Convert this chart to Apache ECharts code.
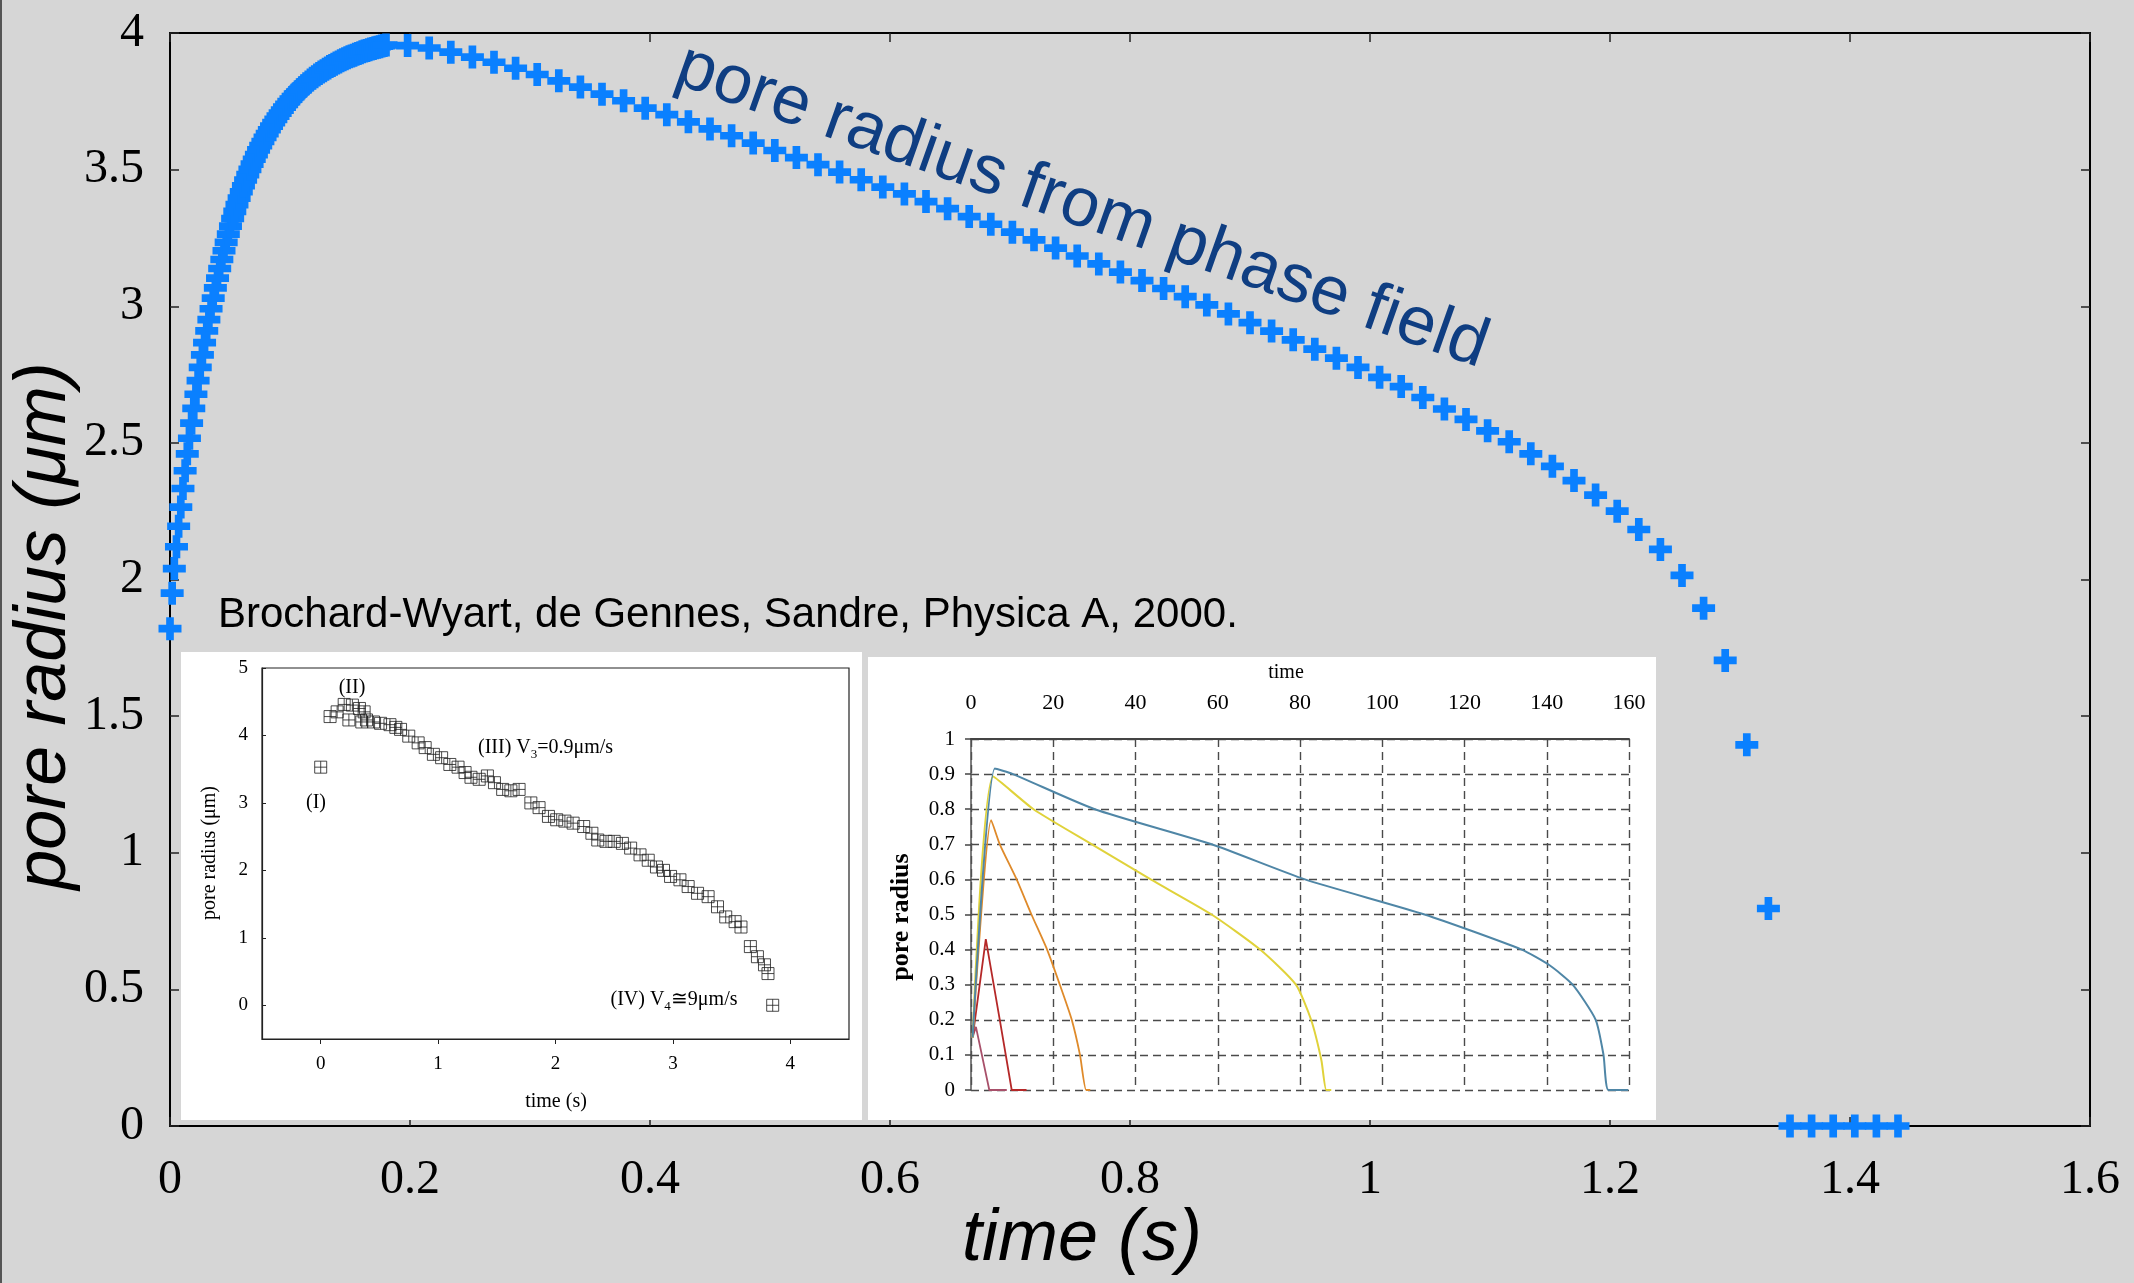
<!DOCTYPE html>
<html><head><meta charset="utf-8">
<script src="https://cdn.jsdelivr.net/npm/echarts@6/dist/echarts.min.js"></script>
<style>html,body{margin:0;padding:0;background:#d6d6d6}#c{width:2134px;height:1283px}</style>
</head><body><div id="c"></div><script>
// ---- main chart: pore radius from phase field ----
const mainTime = [
0,0.0018,0.0036,0.0054,0.0072,0.009,0.0108,0.0126,0.0144,0.0162,
0.018,0.0198,0.0216,0.0234,0.0252,0.027,0.0288,0.0306,0.0324,0.0342,
0.036,0.0378,0.0396,0.0414,0.0432,0.045,0.0468,0.0486,0.0504,0.0522,
0.054,0.0558,0.0576,0.0594,0.0612,0.063,0.0648,0.0666,0.0684,0.0702,
0.072,0.0738,0.0756,0.0774,0.0792,0.081,0.0828,0.0846,0.0864,0.0882,
0.09,0.0918,0.0936,0.0954,0.0972,0.099,0.1008,0.1026,0.1044,0.1062,
0.108,0.1098,0.1116,0.1134,0.1152,0.117,0.1188,0.1206,0.1224,0.1242,
0.126,0.1278,0.1296,0.1314,0.1332,0.135,0.1368,0.1386,0.1404,0.1422,
0.144,0.1458,0.1476,0.1494,0.1512,0.153,0.1548,0.1566,0.1584,0.1602,
0.162,0.1638,0.1656,0.1674,0.1692,0.171,0.1728,0.1746,0.1764,0.1782,0.18,
0.198,0.216,0.234,0.252,0.27,0.288,0.306,0.324,0.342,0.36,
0.378,0.396,0.414,0.432,0.45,0.468,0.486,0.504,0.522,0.54,
0.558,0.576,0.594,0.612,0.63,0.648,0.666,0.684,0.702,0.72,
0.738,0.756,0.774,0.792,0.81,0.828,0.846,0.864,0.882,0.9,
0.918,0.936,0.954,0.972,0.99,1.008,1.026,1.044,1.062,1.08,
1.098,1.116,1.134,1.152,1.17,1.188,1.206,1.224,1.242,1.26,
1.278,1.296,1.314,1.332,1.35,1.368,1.386,1.404,1.422,1.44
];
const mainRadius = [
1.82,1.95,2.04,2.12,2.195,2.265,2.333,2.398,2.46,2.517,
2.572,2.626,2.678,2.728,2.776,2.822,2.867,2.91,2.951,2.991,
3.03,3.067,3.103,3.138,3.171,3.203,3.234,3.264,3.293,3.321,
3.347,3.372,3.396,3.419,3.441,3.462,3.482,3.501,3.52,3.538,
3.555,3.572,3.588,3.603,3.618,3.632,3.646,3.659,3.672,3.684,
3.696,3.707,3.718,3.729,3.739,3.749,3.758,3.767,3.776,3.784,
3.792,3.8,3.807,3.814,3.821,3.828,3.834,3.84,3.846,3.852,
3.857,3.862,3.867,3.872,3.877,3.881,3.886,3.89,3.894,3.898,
3.902,3.906,3.909,3.913,3.916,3.919,3.922,3.925,3.928,3.931,
3.934,3.936,3.939,3.941,3.943,3.946,3.948,3.95,3.952,3.954,3.956,
3.954,3.945,3.93,3.912,3.893,3.871,3.848,3.825,3.802,3.776,
3.752,3.725,3.701,3.675,3.649,3.624,3.597,3.57,3.544,3.518,
3.491,3.463,3.436,3.411,3.383,3.357,3.328,3.3,3.271,3.243,
3.213,3.184,3.155,3.125,3.094,3.065,3.035,3.005,2.972,2.94,
2.909,2.877,2.843,2.81,2.776,2.74,2.706,2.666,2.624,2.586,
2.544,2.504,2.46,2.414,2.362,2.309,2.25,2.183,2.11,2.015,
1.895,1.704,1.395,0.796,0,0,0,0,0,0
];

// ---- inset A: experiment (Brochard-Wyart et al.) ----
const insetATime = [0,0.08,0.14,0.2,0.24,0.27,0.33,0.35,0.37,0.39,0.45,0.51,0.59,0.64,0.68,0.75,0.83,0.89,0.96,1.03,
1.1,1.17,1.23,1.28,1.35,1.42,1.48,1.55,1.62,1.69,1.79,1.86,1.94,2.01,2.08,2.15,2.24,2.31,2.36,2.43,
2.5,2.57,2.64,2.72,2.79,2.86,2.92,2.98,3.06,3.13,3.21,3.3,3.38,3.45,3.53,3.58,3.66,3.72,3.78,3.81,3.85];
const insetARadius = [3.53,4.28,4.35,4.46,4.23,4.45,4.4,4.2,4.35,4.23,4.2,4.18,4.16,4.12,4.09,3.99,3.89,3.82,3.72,3.67,
3.57,3.53,3.45,3.38,3.35,3.4,3.3,3.2,3.18,3.2,3.0,2.93,2.8,2.75,2.73,2.7,2.65,2.55,2.45,2.43,
2.43,2.4,2.33,2.23,2.15,2.05,2.0,1.91,1.86,1.76,1.66,1.61,1.46,1.31,1.24,1.16,0.87,0.72,0.6,0.47,0.0];
const insetAXTicks = [0,1,2,3,4];
const insetAYTicks = [0,1,2,3,4,5];

// ---- inset B: model curves ----
const curve1Time = [0.4,1.2,4.45,8.7];
const curve1Radius = [0.15,0.18,0,0];
const curve2Time = [0.4,3.6,7.0,9.9,13.5];
const curve2Radius = [0.15,0.43,0.2,0,0];
const curve3Time = [0.4,4.9,7.0,11.1,14.7,18.5,21.6,24.5,26.5,28,29];
const curve3Radius = [0.15,0.769,0.7,0.6,0.5,0.4,0.3,0.2,0.1,0,0];
const curve4Time = [0.4,5.4,15.2,29.4,43.7,58.5,70.3,79,82.7,85.2,86.4,87.6];
const curve4Radius = [0.15,0.893,0.8,0.7,0.6,0.5,0.4,0.3,0.2,0.085,0,0];
const curve5Time = [0.4,5.8,10.2,30.1,58.5,81.2,110.3,133.9,140.6,146.3,151.9,153.8,155,159.8];
const curve5Radius = [0.15,0.916,0.9,0.8,0.7,0.6,0.5,0.4,0.356,0.3,0.2,0.1,0,0];

const zip = (a, b) => a.map((v, i) => [v, b[i]]);
const SERIF = '"Liberation Serif","Times New Roman",serif';
const SANS = '"Liberation Sans",Arial,sans-serif';
const PLUS = 'path://M8,0H16V8H24V16H16V24H8V16H0V8H8Z';
const BOXCROSS = 'path://M0,0L10,0L10,10L0,10Z M5,0L5,10 M0,5L10,5';

const chart = echarts.init(document.getElementById('c'), null, {renderer: 'canvas'});
const gridLine = {lineStyle: {color: '#4a4a4a', width: 1.4, type: [8, 5]}};
const mainLine = {onZero: false, lineStyle: {color: '#000', width: 2}};
const mainTick = {inside: true, length: 9, lineStyle: {color: '#222', width: 1.5}};

chart.setOption({
  backgroundColor: '#d6d6d6',
  animation: false,
  grid: [
    {left: 170, right: 44, top: 33, bottom: 157},
    {left: 262, right: 1285, top: 668, bottom: 244, show: true, borderColor: '#222', borderWidth: 1.2, backgroundColor: 'transparent', z: 3},
    {left: 971, right: 505, top: 739, bottom: 193, z: 3}
  ],
  xAxis: [
    {gridIndex: 0, type: 'value', min: 0, max: 1.6, interval: 0.2, position: 'bottom',
     axisLine: mainLine, axisTick: mainTick,
     axisLabel: {margin: 30, color: '#000', fontSize: 48, fontFamily: SERIF},
     splitLine: {show: false}},
    {gridIndex: 0, type: 'value', min: 0, max: 1.6, interval: 0.2, position: 'top',
     axisLine: mainLine, axisTick: mainTick,
     axisLabel: {show: false}, splitLine: {show: false}},
    {gridIndex: 1, type: 'value', min: -0.5, max: 4.5, position: 'bottom', z: 3,
     axisLine: {onZero: false, lineStyle: {color: '#222', width: 1.2}},
     axisTick: {customValues: insetAXTicks, length: 5, lineStyle: {color: '#222'}},
     axisLabel: {customValues: insetAXTicks, margin: 16, color: '#000', fontSize: 19, fontFamily: SERIF},
     splitLine: {show: false}},
    {gridIndex: 2, type: 'value', min: 0, max: 160, interval: 20, position: 'top', z: 3,
     axisLine: {onZero: false, lineStyle: {color: '#444', width: 2}},
     axisTick: {show: false},
     axisLabel: {margin: 25, color: '#000', fontSize: 22, fontFamily: SERIF},
     splitLine: gridLine}
  ],
  yAxis: [
    {gridIndex: 0, type: 'value', min: 0, max: 4, interval: 0.5, position: 'left',
     axisLine: mainLine, axisTick: mainTick,
     axisLabel: {margin: 26, color: '#000', fontSize: 48, fontFamily: SERIF},
     splitLine: {show: false}},
    {gridIndex: 0, type: 'value', min: 0, max: 4, interval: 0.5, position: 'right',
     axisLine: mainLine, axisTick: mainTick,
     axisLabel: {show: false}, splitLine: {show: false}},
    {gridIndex: 1, type: 'value', min: -0.5, max: 5, position: 'left', z: 3,
     axisLine: {onZero: false, lineStyle: {color: '#222', width: 1.2}},
     axisTick: {customValues: insetAYTicks, inside: true, length: 4, lineStyle: {color: '#222'}},
     axisLabel: {customValues: insetAYTicks, margin: 14, color: '#000', fontSize: 19, fontFamily: SERIF},
     splitLine: {show: false}},
    {gridIndex: 2, type: 'value', min: 0, max: 1, interval: 0.1, position: 'left', z: 3,
     axisLine: {onZero: false, lineStyle: {color: '#555', width: 1.5}},
     axisTick: {length: 6, lineStyle: {color: '#444', width: 1.5}},
     axisLabel: {margin: 16, color: '#000', fontSize: 21, fontFamily: SERIF},
     splitLine: gridLine}
  ],
  series: [
    {type: 'scatter', xAxisIndex: 0, yAxisIndex: 0, data: zip(mainTime, mainRadius),
     symbol: PLUS, symbolSize: 23, itemStyle: {color: '#0a80ff', opacity: 1}, z: 4},
    {type: 'scatter', xAxisIndex: 2, yAxisIndex: 2, data: zip(insetATime, insetARadius),
     symbol: BOXCROSS, symbolSize: 12, z: 5,
     itemStyle: {color: 'rgba(0,0,0,0)', borderColor: '#1e1e1e', borderWidth: 1}},
    {type: 'line', xAxisIndex: 3, yAxisIndex: 3, data: zip(curve1Time, curve1Radius), showSymbol: false, z: 5,
     lineStyle: {color: '#a8506a', width: 1.8}},
    {type: 'line', xAxisIndex: 3, yAxisIndex: 3, data: zip(curve2Time, curve2Radius), showSymbol: false, z: 5,
     lineStyle: {color: '#b52828', width: 1.8}},
    {type: 'line', xAxisIndex: 3, yAxisIndex: 3, data: zip(curve3Time, curve3Radius), showSymbol: false, z: 5, smooth: 0.2,
     lineStyle: {color: '#df8a2a', width: 1.8}},
    {type: 'line', xAxisIndex: 3, yAxisIndex: 3, data: zip(curve4Time, curve4Radius), showSymbol: false, z: 5, smooth: 0.2,
     lineStyle: {color: '#e0d23a', width: 2}},
    {type: 'line', xAxisIndex: 3, yAxisIndex: 3, data: zip(curve5Time, curve5Radius), showSymbol: false, z: 5, smooth: 0.2,
     lineStyle: {color: '#4f86a6', width: 2}}
  ],
  graphic: [
    {type: 'line', z: 1, shape: {x1: 1, y1: 0, x2: 1, y2: 1283}, style: {stroke: '#555', lineWidth: 2}},
    {type: 'rect', z: 1, shape: {x: 181, y: 652, width: 681, height: 468}, style: {fill: '#ffffff'}},
    {type: 'rect', z: 1, shape: {x: 868, y: 657, width: 788, height: 463}, style: {fill: '#ffffff'}},
    {type: 'text', z: 10, x: 45, y: 626, rotation: Math.PI / 2,
     style: {text: 'pore radius (μm)', font: 'italic 72px ' + SANS, fill: '#000', align: 'center', verticalAlign: 'middle'}},
    {type: 'text', z: 10, x: 1082, y: 1240,
     style: {text: 'time (s)', font: 'italic 72px ' + SANS, fill: '#000', align: 'center', verticalAlign: 'middle'}},
    {type: 'text', z: 10, x: 1082, y: 207, rotation: -0.34,
     style: {text: 'pore radius from phase field', font: '69px ' + SANS, fill: '#0f3e82', align: 'center', verticalAlign: 'middle'}},
    {type: 'text', z: 10, x: 218, y: 615,
     style: {text: 'Brochard-Wyart, de Gennes, Sandre, Physica A, 2000.', font: '42px ' + SANS, fill: '#000', align: 'left', verticalAlign: 'middle'}},
    {type: 'text', z: 10, x: 352, y: 688,
     style: {text: '(II)', font: '20px ' + SERIF, fill: '#000', align: 'center', verticalAlign: 'middle'}},
    {type: 'text', z: 10, x: 316, y: 803,
     style: {text: '(I)', font: '20px ' + SERIF, fill: '#000', align: 'center', verticalAlign: 'middle'}},
    {type: 'text', z: 10, x: 478, y: 748,
     style: {text: '{n|(III) V}{s|3}{n|=0.9μm/s}', align: 'left', verticalAlign: 'middle',
       rich: {n: {fontSize: 20, fontFamily: SERIF, fill: '#000', lineHeight: 26, verticalAlign: 'middle'},
              s: {fontSize: 13, fontFamily: SERIF, fill: '#000', lineHeight: 26, verticalAlign: 'bottom'}}}},
    {type: 'text', z: 10, x: 674, y: 1000,
     style: {text: '{n|(IV) V}{s|4}{n|≅9μm/s}', align: 'center', verticalAlign: 'middle',
       rich: {n: {fontSize: 20, fontFamily: SERIF, fill: '#000', lineHeight: 26, verticalAlign: 'middle'},
              s: {fontSize: 13, fontFamily: SERIF, fill: '#000', lineHeight: 26, verticalAlign: 'bottom'}}}},
    {type: 'text', z: 10, x: 556, y: 1102,
     style: {text: 'time (s)', font: '20px ' + SERIF, fill: '#000', align: 'center', verticalAlign: 'middle'}},
    {type: 'text', z: 10, x: 210, y: 853, rotation: Math.PI / 2,
     style: {text: 'pore radius (μm)', font: '20px ' + SERIF, fill: '#000', align: 'center', verticalAlign: 'middle'}},
    {type: 'text', z: 10, x: 1286, y: 673,
     style: {text: 'time', font: '20px ' + SERIF, fill: '#000', align: 'center', verticalAlign: 'middle'}},
    {type: 'text', z: 10, x: 901, y: 917, rotation: Math.PI / 2,
     style: {text: 'pore radius', font: 'bold 26px ' + SERIF, fill: '#000', align: 'center', verticalAlign: 'middle'}}
  ]
});
</script></body></html>
